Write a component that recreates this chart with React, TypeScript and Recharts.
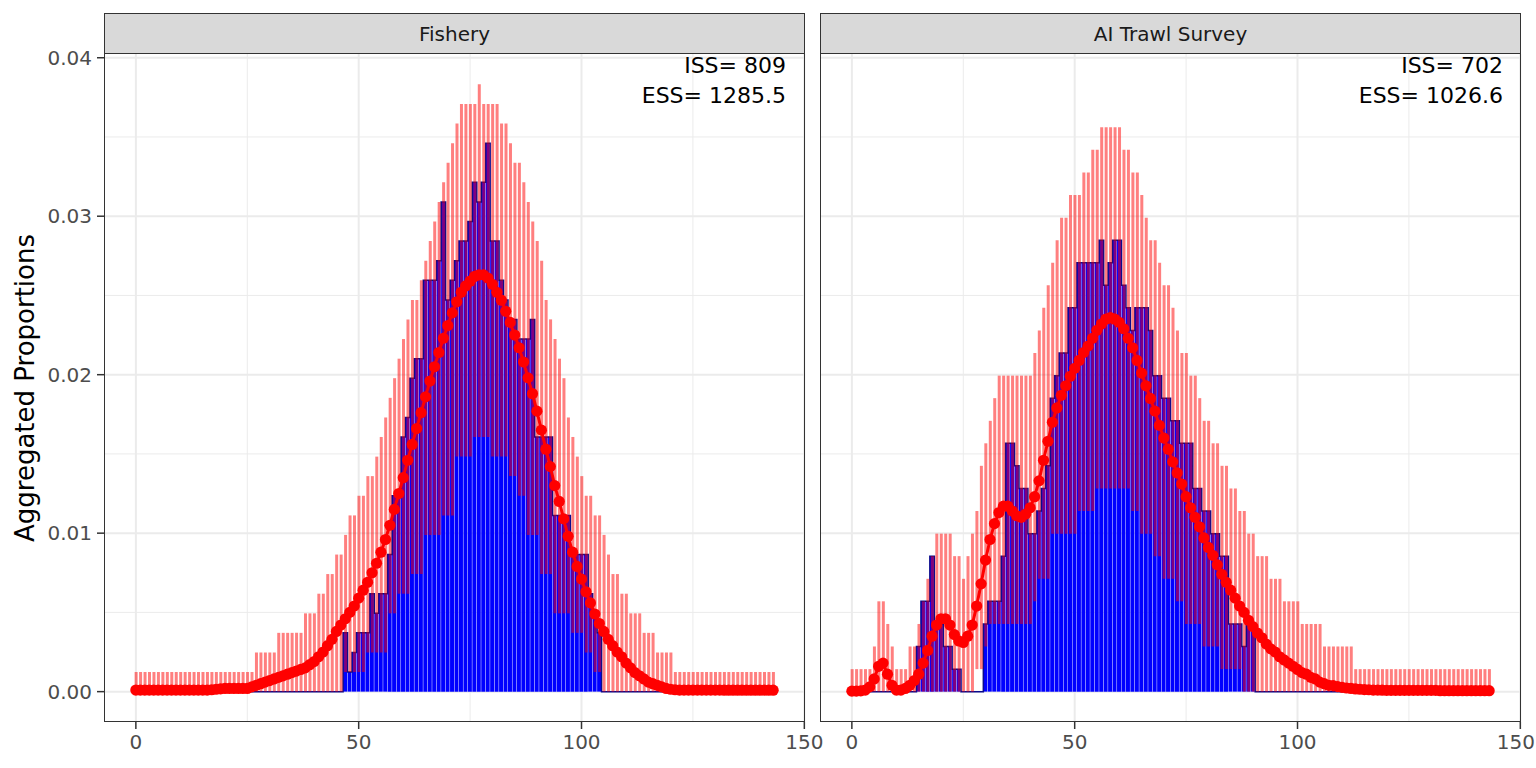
import { Bar, CartesianGrid, ComposedChart, Line, XAxis, YAxis } from 'recharts'

// length bins 0..143
const lengthBins = [
  0, 1, 2, 3, 4, 5, 6, 7, 8, 9, 10, 11, 12, 13, 14, 15, 16, 17, 18, 19, 20, 21, 22, 23,
  24, 25, 26, 27, 28, 29, 30, 31, 32, 33, 34, 35, 36, 37, 38, 39, 40, 41, 42, 43, 44, 45, 46, 47,
  48, 49, 50, 51, 52, 53, 54, 55, 56, 57, 58, 59, 60, 61, 62, 63, 64, 65, 66, 67, 68, 69, 70, 71,
  72, 73, 74, 75, 76, 77, 78, 79, 80, 81, 82, 83, 84, 85, 86, 87, 88, 89, 90, 91, 92, 93, 94, 95,
  96, 97, 98, 99, 100, 101, 102, 103, 104, 105, 106, 107, 108, 109, 110, 111, 112, 113, 114, 115, 116, 117, 118, 119,
  120, 121, 122, 123, 124, 125, 126, 127, 128, 129, 130, 131, 132, 133, 134, 135, 136, 137, 138, 139, 140, 141, 142, 143,
]

// ---- Fishery ----
const fisheryObs = [
  0, 0, 0, 0, 0, 0, 0, 0, 0, 0, 0, 0,
  0, 0, 0, 0, 0, 0, 0, 0, 0, 0, 0, 0,
  0, 0, 0, 0, 0, 0, 0, 0, 0, 0, 0, 0,
  0, 0, 0, 0, 0, 0, 0, 0, 0, 0, 0, 0.00371,
  0.00124, 0.00247, 0.00371, 0.00371, 0.00371, 0.00618, 0.00494, 0.00618, 0.00618, 0.00865, 0.01236, 0.01236,
  0.01607, 0.0173, 0.01978, 0.02101, 0.02101, 0.02596, 0.02596, 0.02596, 0.02719, 0.0309, 0.02472, 0.02596,
  0.02719, 0.02843, 0.02843, 0.02967, 0.03214, 0.0309, 0.03214, 0.03461, 0.02843, 0.02843, 0.02596, 0.02472,
  0.02349, 0.02349, 0.02225, 0.02225, 0.02225, 0.02349, 0.01607, 0.01607, 0.01607, 0.01607, 0.01112, 0.01112,
  0.01112, 0.01112, 0.00865, 0.00865, 0.00865, 0.00865, 0.00618, 0.00494, 0.00371, 0, 0, 0,
  0, 0, 0, 0, 0, 0, 0, 0, 0, 0, 0, 0,
  0, 0, 0, 0, 0, 0, 0, 0, 0, 0, 0, 0,
  0, 0, 0, 0, 0, 0, 0, 0, 0, 0, 0, 0,
]

const fisheryLow = [
  0, 0, 0, 0, 0, 0, 0, 0, 0, 0, 0, 0,
  0, 0, 0, 0, 0, 0, 0, 0, 0, 0, 0, 0,
  0, 0, 0, 0, 0, 0, 0, 0, 0, 0, 0, 0,
  0, 0, 0, 0, 0, 0, 0, 0, 0, 0, 0, 0.00124,
  0.00124, 0.00124, 0.00124, 0.00124, 0.00247, 0.00247, 0.00247, 0.00247, 0.00247, 0.00494, 0.00494, 0.00618,
  0.00618, 0.00618, 0.00742, 0.00742, 0.00742, 0.00989, 0.00989, 0.00989, 0.00989, 0.01112, 0.01112, 0.01112,
  0.01483, 0.01483, 0.01483, 0.01483, 0.01607, 0.01607, 0.01607, 0.01607, 0.01483, 0.01483, 0.01483, 0.01483,
  0.0136, 0.0136, 0.01236, 0.01236, 0.00989, 0.00989, 0.00989, 0.00742, 0.00742, 0.00742, 0.00494, 0.00494,
  0.00494, 0.00494, 0.00371, 0.00371, 0.00371, 0.00247, 0.00247, 0.00124, 0.00124, 0, 0, 0,
  0, 0, 0, 0, 0, 0, 0, 0, 0, 0, 0, 0,
  0, 0, 0, 0, 0, 0, 0, 0, 0, 0, 0, 0,
  0, 0, 0, 0, 0, 0, 0, 0, 0, 0, 0, 0,
]

const fisheryHigh = [
  0.00124, 0.00124, 0.00124, 0.00124, 0.00124, 0.00124, 0.00124, 0.00124, 0.00124, 0.00124, 0.00124, 0.00124,
  0.00124, 0.00124, 0.00124, 0.00124, 0.00124, 0.00124, 0.00124, 0.00124, 0.00124, 0.00124, 0.00124, 0.00124,
  0.00124, 0.00124, 0.00124, 0.00247, 0.00247, 0.00247, 0.00247, 0.00247, 0.00371, 0.00371, 0.00371, 0.00371,
  0.00371, 0.00371, 0.00494, 0.00494, 0.00494, 0.00618, 0.00618, 0.00742, 0.00742, 0.00865, 0.00865, 0.00989,
  0.01112, 0.01112, 0.01236, 0.01236, 0.0136, 0.0136, 0.01483, 0.01607, 0.0173, 0.01854, 0.01978, 0.02101,
  0.02225, 0.02349, 0.02472, 0.02472, 0.02596, 0.02719, 0.02843, 0.02967, 0.0309, 0.03214, 0.03337, 0.03461,
  0.03585, 0.03708, 0.03708, 0.03708, 0.03708, 0.03832, 0.03708, 0.03708, 0.03708, 0.03708, 0.03585, 0.03585,
  0.03461, 0.03337, 0.03337, 0.03214, 0.0309, 0.02967, 0.02843, 0.02719, 0.02472, 0.02349, 0.02225, 0.02101,
  0.01978, 0.0173, 0.01607, 0.01483, 0.0136, 0.01236, 0.01236, 0.01112, 0.01112, 0.00989, 0.00865, 0.00742,
  0.00742, 0.00618, 0.00618, 0.00494, 0.00494, 0.00494, 0.00371, 0.00371, 0.00371, 0.00247, 0.00247, 0.00247,
  0.00247, 0.00124, 0.00124, 0.00124, 0.00124, 0.00124, 0.00124, 0.00124, 0.00124, 0.00124, 0.00124, 0.00124,
  0.00124, 0.00124, 0.00124, 0.00124, 0.00124, 0.00124, 0.00124, 0.00124, 0.00124, 0.00124, 0.00124, 0.00124,
]

const fisheryExp = [
  0.0001, 0.0001, 0.0001, 0.0001, 0.0001, 0.0001, 0.0001, 0.0001, 0.0001, 0.0001, 0.0001, 0.0001,
  0.0001, 0.0001, 0.0001, 0.0001, 0.0001, 0.00012, 0.00015, 0.00018, 0.0002, 0.0002, 0.0002, 0.0002,
  0.0002, 0.0002, 0.0003, 0.0004, 0.0005, 0.0006, 0.0007, 0.0008, 0.0009, 0.001, 0.0011, 0.0012,
  0.0013, 0.0014, 0.0015, 0.0017, 0.0019, 0.0022, 0.0025, 0.0029, 0.0033, 0.0038, 0.0042, 0.0046,
  0.005, 0.0054, 0.0059, 0.0064, 0.0069, 0.0075, 0.0081, 0.0088, 0.0096, 0.0105, 0.0115, 0.0125,
  0.0135, 0.0146, 0.0156, 0.0166, 0.0176, 0.0186, 0.0196, 0.0205, 0.0214, 0.0223, 0.0231, 0.0239,
  0.0246, 0.0252, 0.0256, 0.0259, 0.0262, 0.0263, 0.0263, 0.0261, 0.0257, 0.0252, 0.0247, 0.024,
  0.0233, 0.0225, 0.0217, 0.0208, 0.0198, 0.0188, 0.0177, 0.0165, 0.0153, 0.0142, 0.013, 0.012,
  0.0109, 0.0098, 0.0088, 0.0079, 0.0071, 0.0063, 0.0056, 0.0049, 0.0043, 0.0038, 0.0033, 0.0029,
  0.0025, 0.0022, 0.0018, 0.0015, 0.0012, 0.001, 0.0008, 0.0006, 0.0005, 0.0004, 0.0003, 0.0002,
  0.00015, 0.00012, 0.0001, 0.0001, 0.0001, 0.0001, 0.0001, 0.0001, 0.0001, 0.0001, 0.0001, 0.0001,
  0.00009, 0.00009, 0.00009, 0.00009, 0.00009, 0.00009, 0.00009, 0.00009, 0.00009, 0.00009, 0.00009, 0.00009,
]

// ---- AI Trawl Survey ----
const surveyObs = [
  0, 0, 0, 0, 0, 0, 0, 0, 0, 0, 0, 0,
  0, 0, 0, 0.00285, 0.0057, 0.0057, 0.00855, 0.00427, 0.00427, 0.00285, 0.00285, 0.00142,
  0.00142, 0, 0, 0, 0, 0, 0.00427, 0.0057, 0.0057, 0.0057, 0.00855, 0.01567,
  0.01567, 0.01425, 0.01282, 0.01282, 0.00997, 0.00997, 0.0114, 0.01282, 0.01425, 0.01852, 0.01994, 0.02137,
  0.02137, 0.02422, 0.02422, 0.02707, 0.02707, 0.02707, 0.02707, 0.02707, 0.02849, 0.02564, 0.02707, 0.02849,
  0.02849, 0.02564, 0.02422, 0.02279, 0.02422, 0.02422, 0.02422, 0.02279, 0.01994, 0.01994, 0.01852, 0.01852,
  0.01709, 0.01709, 0.01567, 0.01567, 0.01567, 0.01282, 0.01282, 0.0114, 0.0114, 0.00997, 0.00997, 0.00855,
  0.00855, 0.00427, 0.00427, 0.00427, 0.00285, 0.00427, 0.00427, 0, 0, 0, 0, 0,
  0, 0, 0, 0, 0, 0, 0, 0, 0, 0, 0, 0,
  0, 0, 0, 0, 0, 0, 0, 0, 0, 0, 0, 0,
  0, 0, 0, 0, 0, 0, 0, 0, 0, 0, 0, 0,
  0, 0, 0, 0, 0, 0, 0, 0, 0, 0, 0, 0,
]

const surveyLow = [
  0, 0, 0, 0, 0, 0, 0, 0, 0, 0, 0, 0,
  0, 0, 0, 0, 0, 0, 0, 0, 0, 0, 0, 0,
  0, 0, 0, 0, 0.00142, 0.00142, 0.00285, 0.00427, 0.00427, 0.00427, 0.00427, 0.00427,
  0.00427, 0.00427, 0.00427, 0.00427, 0.00427, 0.0057, 0.00712, 0.00712, 0.00712, 0.00997, 0.00997, 0.00997,
  0.00997, 0.00997, 0.00997, 0.0114, 0.0114, 0.0114, 0.0114, 0.01282, 0.01282, 0.01282, 0.01282, 0.01282,
  0.01282, 0.01282, 0.01282, 0.0114, 0.0114, 0.00997, 0.00997, 0.00997, 0.00855, 0.00855, 0.00712, 0.00712,
  0.00712, 0.0057, 0.0057, 0.00427, 0.00427, 0.00427, 0.00427, 0.00285, 0.00285, 0.00285, 0.00285, 0.00142,
  0.00142, 0.00142, 0.00142, 0.00142, 0, 0, 0, 0, 0, 0, 0, 0,
  0, 0, 0, 0, 0, 0, 0, 0, 0, 0, 0, 0,
  0, 0, 0, 0, 0, 0, 0, 0, 0, 0, 0, 0,
  0, 0, 0, 0, 0, 0, 0, 0, 0, 0, 0, 0,
  0, 0, 0, 0, 0, 0, 0, 0, 0, 0, 0, 0,
]

const surveyHigh = [
  0.00142, 0.00142, 0.00142, 0.00142, 0.00142, 0.00285, 0.0057, 0.0057, 0.00427, 0.00285, 0.00142, 0.00142,
  0.00142, 0.00285, 0.00285, 0.00427, 0.0057, 0.00712, 0.00855, 0.00997, 0.00997, 0.00997, 0.00997, 0.00855,
  0.00855, 0.00712, 0.00855, 0.00997, 0.0114, 0.01425, 0.01567, 0.01709, 0.01852, 0.01994, 0.01994, 0.01994,
  0.01994, 0.01994, 0.01994, 0.01994, 0.01994, 0.02137, 0.02279, 0.02422, 0.02564, 0.02707, 0.02849, 0.02991,
  0.02991, 0.03134, 0.03134, 0.03134, 0.03276, 0.03276, 0.03419, 0.03419, 0.03561, 0.03561, 0.03561, 0.03561,
  0.03561, 0.03419, 0.03419, 0.03276, 0.03276, 0.03134, 0.02991, 0.02849, 0.02849, 0.02707, 0.02564, 0.02564,
  0.02422, 0.02279, 0.02137, 0.02137, 0.01994, 0.01994, 0.01852, 0.01709, 0.01709, 0.01567, 0.01567, 0.01425,
  0.01425, 0.01282, 0.01282, 0.0114, 0.0114, 0.00997, 0.00997, 0.00855, 0.00855, 0.00855, 0.00712, 0.00712,
  0.00712, 0.0057, 0.0057, 0.0057, 0.0057, 0.00427, 0.00427, 0.00427, 0.00427, 0.00427, 0.00285, 0.00285,
  0.00285, 0.00285, 0.00285, 0.00285, 0.00285, 0.00142, 0.00142, 0.00142, 0.00142, 0.00142, 0.00142, 0.00142,
  0.00142, 0.00142, 0.00142, 0.00142, 0.00142, 0.00142, 0.00142, 0.00142, 0.00142, 0.00142, 0.00142, 0.00142,
  0.00142, 0.00142, 0.00142, 0.00142, 0.00142, 0.00142, 0.00142, 0.00142, 0.00142, 0.00142, 0.00142, 0.00142,
]

const surveyExp = [
  0.00003, 0.00003, 0.00005, 0.0001, 0.0003, 0.0008, 0.0016, 0.0018, 0.0011, 0.0004, 0.0001, 0.0001,
  0.0002, 0.0004, 0.0007, 0.0011, 0.0018, 0.0026, 0.0035, 0.0042, 0.0046, 0.0046, 0.0042, 0.0036,
  0.0032, 0.0031, 0.0035, 0.0042, 0.0054, 0.0068, 0.0083, 0.0096, 0.0106, 0.0113, 0.0117, 0.0117,
  0.0114, 0.0111, 0.011, 0.0112, 0.0116, 0.0123, 0.0133, 0.0146, 0.0158, 0.017, 0.0179, 0.0187,
  0.0193, 0.0199, 0.0204, 0.0209, 0.0214, 0.0218, 0.0223, 0.0228, 0.0232, 0.0235, 0.0236, 0.0235,
  0.0233, 0.0229, 0.0223, 0.0217, 0.0209, 0.0201, 0.0193, 0.0185, 0.0177, 0.0168, 0.016, 0.0153,
  0.0145, 0.0138, 0.0131, 0.0123, 0.0116, 0.011, 0.0104, 0.0097, 0.0091, 0.0086, 0.008, 0.0074,
  0.0069, 0.0064, 0.0059, 0.0054, 0.005, 0.0045, 0.0041, 0.0037, 0.0034, 0.003, 0.0027, 0.0025,
  0.0022, 0.002, 0.0018, 0.0016, 0.0014, 0.0012, 0.0011, 0.0009, 0.0008, 0.0006, 0.0005, 0.0004,
  0.00038, 0.00032, 0.00027, 0.00023, 0.0002, 0.00017, 0.00015, 0.00013, 0.00012, 0.0001, 0.0001, 0.00009,
  0.00008, 0.00008, 0.00008, 0.00008, 0.00008, 0.00008, 0.00008, 0.00008, 0.00008, 0.00008, 0.00008, 0.00008,
  0.00006, 0.00006, 0.00006, 0.00006, 0.00006, 0.00006, 0.00006, 0.00006, 0.00006, 0.00006, 0.00006, 0.00006,
]

const xTicks = [0, 50, 100, 150]
const xMinor = [25, 75, 125]
const yTicks = [0, 0.01, 0.02, 0.03, 0.04]
const yMinor = [0.005, 0.015, 0.025, 0.035]

const X_DOMAIN: [number, number] = [-7.15, 150.15]
const Y_DOMAIN: [number, number] = [-0.001916, 0.040236]

const FONT = '"DejaVu Sans", "Liberation Sans", sans-serif'
const PANEL_TOP = 54
const PANEL_H = 668
const PANEL_W = 701
const XAXIS_H = 40
const TOP_PAD = 20

const tickStyle = { fill: '#4D4D4D', fontSize: 20, fontFamily: FONT }
const tickLine = { stroke: '#333333', strokeWidth: 1.5 }

function makeRows(obs: number[], low: number[], high: number[], exp: number[]) {
  return lengthBins.map((x, i) => ({ x, obs: obs[i], band: [low[i], high[i]], exp: exp[i] }))
}

const fisheryRows = makeRows(fisheryObs, fisheryLow, fisheryHigh, fisheryExp)
const surveyRows = makeRows(surveyObs, surveyLow, surveyHigh, surveyExp)

// x tick label; the last one can be kept inside the right edge of the page
function makeXTick(maxRight: number) {
  return function XTick(props: any) {
    const { x, y, payload } = props
    const label = String(payload.value)
    const halfWidth = label.length * 6.4
    const cx = Math.min(x, maxRight - halfWidth)
    return (
      <text x={cx} y={y} dy="0.71em" textAnchor="middle" fill="#4D4D4D" fontSize={20} fontFamily={FONT}>
        {label}
      </text>
    )
  }
}

type FacetProps = {
  rows: ReturnType<typeof makeRows>
  left: number
  width: number
  margin: { top: number; right: number; bottom: number; left: number }
  showY: boolean
}

function FacetChart({ rows, left, width, margin, showY }: FacetProps) {
  return (
    <div style={{ position: 'absolute', left, top: PANEL_TOP - TOP_PAD }}>
      <ComposedChart width={width} height={PANEL_H + XAXIS_H + TOP_PAD} data={rows} margin={margin}>
        <CartesianGrid
          xAxisId="obs"
          horizontalValues={yMinor}
          verticalValues={xMinor}
          stroke="#EBEBEB"
          strokeWidth={1}
        />
        <CartesianGrid
          xAxisId="obs"
          horizontalValues={yTicks}
          verticalValues={xTicks}
          stroke="#EBEBEB"
          strokeWidth={2}
        />
        <XAxis
          xAxisId="obs"
          dataKey="x"
          type="number"
          domain={X_DOMAIN}
          ticks={xTicks}
          interval={0}
          allowDataOverflow
          height={XAXIS_H}
          axisLine={false}
          tickLine={tickLine}
          tickSize={7}
          tickMargin={6}
          tick={makeXTick(width - 1)}
        />
        <XAxis
          xAxisId="band"
          dataKey="x"
          type="number"
          domain={X_DOMAIN}
          allowDataOverflow
          orientation="top"
          height={0}
          hide
        />
        <YAxis
          type="number"
          domain={Y_DOMAIN}
          ticks={yTicks}
          interval={0}
          allowDataOverflow
          hide={!showY}
          width={showY ? 64 : 0}
          axisLine={false}
          tickLine={tickLine}
          tickSize={7}
          tickMargin={5}
          tick={tickStyle}
          tickFormatter={(v: number) => v.toFixed(2)}
        />
        <Bar xAxisId="obs" dataKey="obs" fill="#0000FF" barSize={4.46} isAnimationActive={false} zIndex={300} />
        <Line
          xAxisId="obs"
          type="step"
          dataKey="obs"
          stroke="#0A0A8C"
          strokeWidth={1.5}
          dot={false}
          isAnimationActive={false}
          zIndex={310}
        />
        <Bar
          xAxisId="band"
          dataKey="band"
          fill="#FF0000"
          fillOpacity={0.5}
          barSize={3}
          isAnimationActive={false}
          zIndex={320}
        />
        <Line
          xAxisId="obs"
          type="linear"
          dataKey="exp"
          stroke="#FF0000"
          strokeWidth={3}
          dot={{ r: 5.6, fill: '#FF0000', stroke: 'none' }}
          isAnimationActive={false}
          zIndex={400}
        />
      </ComposedChart>
    </div>
  )
}

function Strip({ left, label }: { left: number; label: string }) {
  return (
    <div
      style={{
        position: 'absolute',
        left,
        top: 13,
        width: PANEL_W,
        height: 41,
        boxSizing: 'border-box',
        border: '1.5px solid #333333',
        background: '#D9D9D9',
        display: 'flex',
        alignItems: 'center',
        justifyContent: 'center',
        fontFamily: FONT,
        fontSize: 20,
        color: '#1A1A1A',
      }}
    >
      {label}
    </div>
  )
}

function PanelBorder({ left }: { left: number }) {
  return (
    <div
      style={{
        position: 'absolute',
        left,
        top: PANEL_TOP - 1,
        width: PANEL_W,
        height: PANEL_H + 1,
        boxSizing: 'border-box',
        border: '1.5px solid #333333',
        pointerEvents: 'none',
      }}
    />
  )
}

function SampleSizes({ right, iss, ess }: { right: number; iss: string; ess: string }) {
  const text = {
    position: 'absolute' as const,
    left: 0,
    width: right,
    textAlign: 'right' as const,
    fontFamily: FONT,
    fontSize: 22,
    lineHeight: '22px',
    color: '#000000',
    whiteSpace: 'pre' as const,
  }
  return (
    <>
      <div style={{ ...text, top: 55 }}>{`ISS= ${iss}`}</div>
      <div style={{ ...text, top: 85 }}>{`ESS= ${ess}`}</div>
    </>
  )
}

export default function App() {
  return (
    <div
      style={{
        position: 'absolute',
        left: 0,
        top: 0,
        width: 1536,
        height: 768,
        background: '#FFFFFF',
        overflow: 'hidden',
      }}
    >
      <FacetChart
        rows={fisheryRows}
        left={40}
        width={785}
        margin={{ top: TOP_PAD, right: 20, bottom: 0, left: 0 }}
        showY
      />
      <FacetChart
        rows={surveyRows}
        left={800}
        width={736}
        margin={{ top: TOP_PAD, right: 15, bottom: 0, left: 20 }}
        showY={false}
      />

      <PanelBorder left={104} />
      <PanelBorder left={820} />
      <Strip left={104} label="Fishery" />
      <Strip left={820} label="AI Trawl Survey" />
      <SampleSizes right={786} iss="809" ess="1285.5" />
      <SampleSizes right={1503} iss="702" ess="1026.6" />

      <div
        style={{
          position: 'absolute',
          left: 25 - 200,
          top: 388 - 16,
          width: 400,
          height: 32,
          lineHeight: '32px',
          textAlign: 'center',
          transform: 'rotate(-90deg)',
          fontFamily: FONT,
          fontSize: 26,
          color: '#000000',
        }}
      >
        Aggregated Proportions
      </div>
    </div>
  )
}
